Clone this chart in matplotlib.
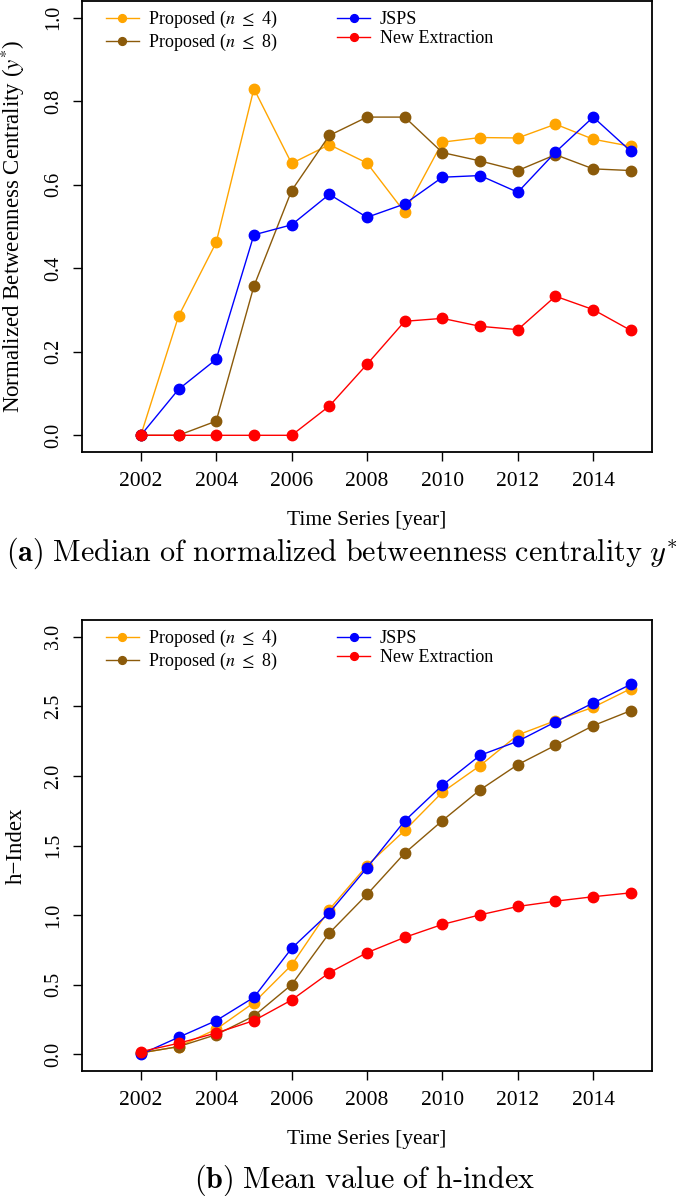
import matplotlib
matplotlib.use("Agg")
import matplotlib.pyplot as plt
from matplotlib.font_manager import FontProperties

years = [2002, 2003, 2004, 2005, 2006, 2007, 2008, 2009, 2010, 2011, 2012, 2013, 2014, 2015]

# (a) median of normalized betweenness centrality
bc_prop4 = [0.0, 0.285, 0.462, 0.830, 0.651, 0.696, 0.652, 0.534, 0.702, 0.713, 0.712, 0.745, 0.709, 0.692]
bc_prop8 = [0.0, 0.0, 0.034, 0.357, 0.586, 0.718, 0.762, 0.762, 0.677, 0.657, 0.634, 0.672, 0.638, 0.634]
bc_jsps = [0.0, 0.110, 0.182, 0.480, 0.504, 0.577, 0.522, 0.554, 0.618, 0.622, 0.582, 0.678, 0.762, 0.680]
bc_newex = [0.0, 0.0, 0.0, 0.0, 0.0, 0.070, 0.170, 0.273, 0.280, 0.261, 0.253, 0.333, 0.301, 0.251]

# (b) mean h-index
h_prop4 = [0.01, 0.055, 0.18, 0.371, 0.641, 1.040, 1.356, 1.608, 1.883, 2.074, 2.294, 2.397, 2.493, 2.627]
h_prop8 = [0.01, 0.055, 0.141, 0.275, 0.500, 0.871, 1.148, 1.445, 1.679, 1.900, 2.081, 2.220, 2.361, 2.469]
h_jsps = [0.0, 0.122, 0.242, 0.409, 0.761, 1.017, 1.340, 1.677, 1.933, 2.148, 2.249, 2.388, 2.524, 2.658]
h_newex = [0.019, 0.079, 0.153, 0.242, 0.390, 0.586, 0.730, 0.840, 0.933, 1.002, 1.062, 1.100, 1.132, 1.160]

labels = [r"Proposed ($n$ $\leq$ 4)", r"Proposed ($n$ $\leq$ 8)", "JSPS", "New Extraction"]
colors = ["#FFA500", "#8B5A0A", "#0000FF", "#FF0000"]

xticks = [2002, 2004, 2006, 2008, 2010, 2012, 2014]

W, H = 685, 1196
fig = plt.figure(figsize=(W / 100, H / 100), dpi=100)

SERIF = "Liberation Serif"
tickfont = 15.5


def make_panel(rect, series, ylim, yticks, ylabel):
    ax = fig.add_axes(rect)
    for vals, col, lab in zip(series, colors, labels):
        ax.plot(years, vals, color=col, lw=1.0, marker="o", ms=7.5, label=lab)
    ax.set_xlim(2000.44, 2015.56)
    ax.set_ylim(*ylim)
    ax.set_xticks(xticks)
    ax.set_xticklabels([str(t) for t in xticks], family=SERIF, fontsize=tickfont)
    ax.set_yticks(yticks)
    ax.set_yticklabels(["%.1f" % t for t in yticks], family=SERIF, fontsize=14.5,
                       rotation=90, va="center")
    ax.tick_params(direction="out", length=6.5, width=1.0, pad=7)
    ax.tick_params(axis="x", pad=8)
    for s in ax.spines.values():
        s.set_linewidth(1.3)
    ax.set_ylabel(ylabel, fontproperties=FontProperties(family=SERIF, size=16.5,
                                                          math_fontfamily="stix"))
    ax.yaxis.set_label_coords(-0.097, 0.5)
    ax.set_xlabel("Time Series [year]", family=SERIF, fontsize=tickfont)
    ax.xaxis.set_label_coords(0.5, -0.13)
    ax.legend(ncol=2, frameon=False, loc="upper left",
              bbox_to_anchor=(24 / 570, 1 - 8 / 452), borderaxespad=0, borderpad=0,
              handlelength=1.8, handletextpad=0.55, columnspacing=3.3,
              labelspacing=0.12, markerscale=0.75,
              prop=FontProperties(family=SERIF, size=13, math_fontfamily="stix"))
    return ax


ax1 = make_panel([82 / W, 1 - 452 / H, 570 / W, 451 / H],
                 [bc_prop4, bc_prop8, bc_jsps, bc_newex],
                 (-0.04, 1.04), [0.0, 0.2, 0.4, 0.6, 0.8, 1.0],
                 r"Normalized Betweenness Centrality ($y^{*}$)")
ax2 = make_panel([82 / W, 1 - 1071 / H, 570 / W, 451 / H],
                 [h_prop4, h_prop8, h_jsps, h_newex],
                 (-0.12, 3.12), [0.0, 0.5, 1.0, 1.5, 2.0, 2.5, 3.0],
                 "h\u2212Index")

capprop = FontProperties(size=21.7, math_fontfamily="cm")
fig.text(342 / W, 1 - 553 / H,
         r"$\mathbf{(a)}\ \mathrm{Median\ of\ normalized\ betweenness\ centrality}\ y^{*}$",
         ha="center", va="center", fontproperties=capprop)
fig.text(365 / W, 1 - 1180 / H,
         r"$\mathbf{(b)}\ \mathrm{Mean\ value\ of\ h\text{-}index}$",
         ha="center", va="center", fontproperties=capprop)

fig.savefig("out.png", dpi=100)
